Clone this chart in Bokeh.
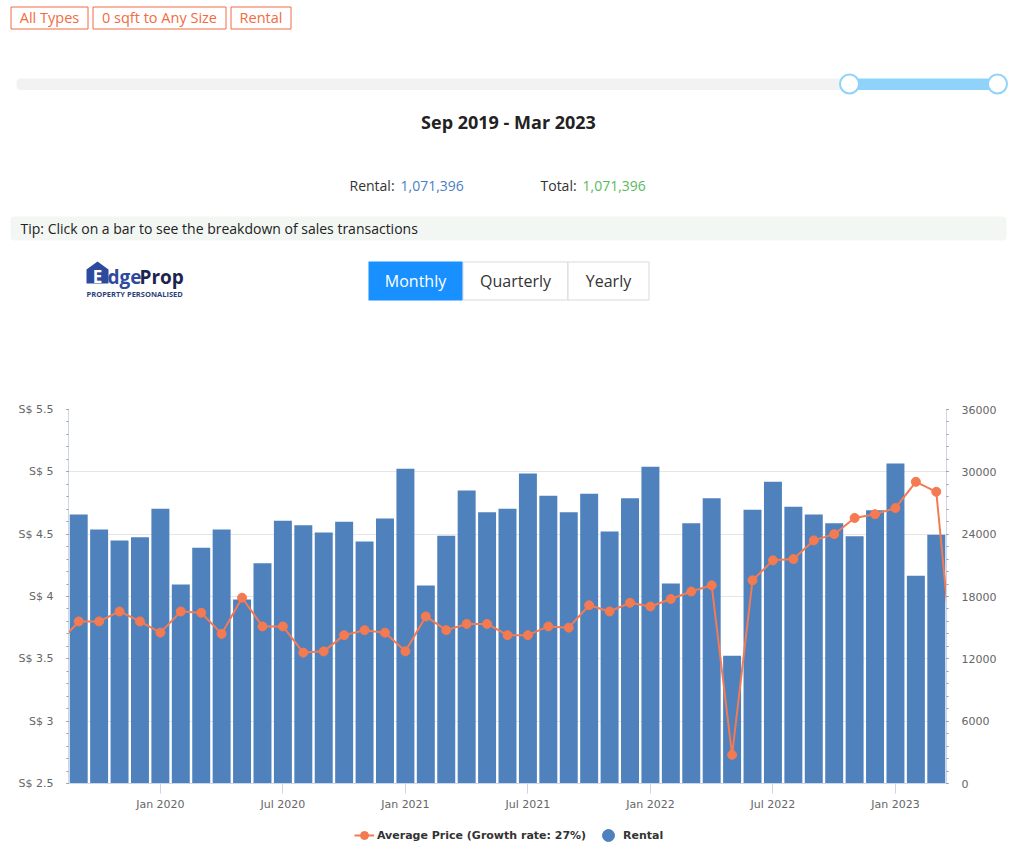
from bokeh.plotting import figure
from bokeh.models import (Range1d, LinearAxis, FixedTicker, CustomJSTickFormatter,
                          Legend, LegendItem, ColumnDataSource, NumeralTickFormatter)
from bokeh.core.properties import value
from bokeh.embed import file_html
from bokeh.resources import INLINE

# ---------------- data ----------------
months = ["Sep 2019", "Oct 2019", "Nov 2019", "Dec 2019",
          "Jan 2020", "Feb 2020", "Mar 2020", "Apr 2020", "May 2020", "Jun 2020",
          "Jul 2020", "Aug 2020", "Sep 2020", "Oct 2020", "Nov 2020", "Dec 2020",
          "Jan 2021", "Feb 2021", "Mar 2021", "Apr 2021", "May 2021", "Jun 2021",
          "Jul 2021", "Aug 2021", "Sep 2021", "Oct 2021", "Nov 2021", "Dec 2021",
          "Jan 2022", "Feb 2022", "Mar 2022", "Apr 2022", "May 2022", "Jun 2022",
          "Jul 2022", "Aug 2022", "Sep 2022", "Oct 2022", "Nov 2022", "Dec 2022",
          "Jan 2023", "Feb 2023", "Mar 2023"]

rental = [25900, 24450, 23400, 23700, 26450, 19150, 22700, 24450, 17700, 21200,
          25300, 24850, 24150, 25200, 23300, 25500, 30300, 19050, 23850, 28200,
          26100, 26450, 29850, 27700, 26100, 27900, 24250, 27450, 30500, 19250,
          25050, 27450, 12300, 26350, 29050, 26650, 25900, 25050, 23800, 26300,
          30800, 20000, 23950]

# average price series (one month on each side lies outside the selected window)
price_months = ["Aug 2019"] + months + ["Apr 2023"]
avg_price = [3.62, 3.80, 3.80, 3.88, 3.80, 3.71, 3.88, 3.87, 3.70, 3.99, 3.76,
             3.76, 3.55, 3.56, 3.69, 3.73, 3.71, 3.56, 3.84, 3.73, 3.78, 3.78,
             3.69, 3.69, 3.76, 3.75, 3.93, 3.88, 3.95, 3.92, 3.98, 4.04, 4.09,
             2.73, 4.13, 4.29, 4.30, 4.45, 4.50, 4.63, 4.66, 4.71, 4.92, 4.84,
             3.14]

tick_labels = ["Jan 2020", "Jul 2020", "Jan 2021", "Jul 2021", "Jan 2022", "Jul 2022", "Jan 2023"]
price_ticks = [2.5, 3.0, 3.5, 4.0, 4.5, 5.0, 5.5]
rental_ticks = [0, 6000, 12000, 18000, 24000, 30000, 36000]

tags = ["All Types", "0 sqft to Any Size", "Rental"]
period_text = "Sep 2019 - Mar 2023"
rental_total = "1,071,396"
grand_total = "1,071,396"
tip_text = "Tip: Click on a bar to see the breakdown of sales transactions"
buttons = ["Monthly", "Quarterly", "Yearly"]
line_label = "Average Price (Growth rate: 27%)"
bar_label = "Rental"

BAR = "#4f81bd"
LINE = "#f47a52"
ORANGE = "#f26b43"
AXIS = "#ccd6eb"
LABEL = "#666666"
FONT = "DejaVu Sans"
UI = value("Open Sans")
W = 1017

# ---------------- header (page-pixel coordinates) ----------------
hdr = figure(width=W, height=395, x_range=Range1d(0, W), y_range=Range1d(395, 0),
             output_backend="svg", toolbar_location=None, min_border=0,
             x_axis_type=None, y_axis_type=None)
hdr.grid.visible = False
hdr.outline_line_color = None

tag_left = [10.5, 92.5, 230.5]
tag_right = [87.5, 225.5, 290.5]
hdr.quad(left=tag_left, right=tag_right, top=[6.5] * 3, bottom=[28.5] * 3,
         fill_color="white", line_color=ORANGE, line_width=1)
hdr.text(x=[(a + b) / 2 for a, b in zip(tag_left, tag_right)], y=[17] * 3, text=tags,
         text_align="center", text_baseline="middle", text_font=UI,
         text_font_size="14.5px", text_color=ORANGE)

# range slider
hdr.quad(left=[16], right=[848], top=[78], bottom=[89.5], fill_color="#f2f2f2",
         line_color=None, border_radius=4)
hdr.quad(left=[848], right=[997], top=[78], bottom=[89.5], fill_color="#8fd3fb",
         line_color=None)
hdr.scatter(x=[849, 997], y=[83.5, 83.5], size=19, marker="circle", fill_color="white",
            line_color="#8fd3fb", line_width=2)

hdr.text(x=[508], y=[121], text=[period_text], text_align="center", text_baseline="middle",
         text_font=UI, text_font_size="18px", text_font_style="bold", text_color="#222222")

hdr.text(x=[349, 540], y=[185, 185], text=["Rental:", "Total:"], text_align="left",
         text_baseline="middle", text_font=UI, text_font_size="14px", text_color="#333333")
hdr.text(x=[400], y=[185], text=[rental_total], text_align="left", text_baseline="middle",
         text_font=UI, text_font_size="14px", text_color="#4a7fc1")
hdr.text(x=[582], y=[185], text=[grand_total], text_align="left", text_baseline="middle",
         text_font=UI, text_font_size="14px", text_color="#5cb85c")

# tip bar
hdr.quad(left=[10], right=[1006], top=[216], bottom=[240], fill_color="#f3f7f4",
         line_color=None, border_radius=4)
hdr.text(x=[20], y=[228], text=[tip_text], text_align="left", text_baseline="middle",
         text_font=UI, text_font_size="14px", text_color="#222222")

# EdgeProp logo
hdr.patch(x=[86, 86, 97, 108, 108], y=[283, 269, 261, 269, 283], fill_color="#2d4a9e",
          line_color=None)
hdr.text(x=[97], y=[276], text=["E"], text_align="center", text_baseline="middle",
         text_font=UI, text_font_size="17px", text_font_style="bold", text_color="white")
hdr.text(x=[107], y=[276], text=["dge"], text_align="left", text_baseline="middle",
         text_font=UI, text_font_size="19px", text_font_style="bold", text_color="#2d4a9e")
hdr.text(x=[139], y=[276], text=["Prop"], text_align="left", text_baseline="middle",
         text_font=UI, text_font_size="19px", text_font_style="bold", text_color="#1b2450")
hdr.text(x=[86], y=[293], text=["PROPERTY PERSONALISED"], text_align="left",
         text_baseline="middle", text_font=UI, text_font_size="7.5px",
         text_font_style="bold", text_color="#2d3f7a")

# period buttons
btn_left = [368, 462.5, 567.5]
btn_right = [462, 567.5, 648.5]
hdr.quad(left=btn_left[1:], right=btn_right[1:], top=[261.5, 261.5], bottom=[299.5, 299.5],
         fill_color="white", line_color="#d9d9d9", line_width=1)
hdr.quad(left=btn_left[:1], right=btn_right[:1], top=[261], bottom=[300],
         fill_color="#1890ff", line_color=None)
hdr.text(x=[(a + b) / 2 for a, b in zip(btn_left, btn_right)], y=[280.5] * 3, text=buttons,
         text_align="center", text_baseline="middle", text_font=UI,
         text_font_size="16px", text_color=["white", "#333333", "#333333"])

# ---------------- chart ----------------
p = figure(width=W, height=424, x_range=Range1d(-0.5, len(months) - 0.5),
           y_range=Range1d(price_ticks[0], price_ticks[-1]), output_backend="svg",
           toolbar_location=None, min_border_left=68, min_border_right=71,
           min_border_top=14, min_border_bottom=36)
p.outline_line_color = None
p.extra_y_ranges = {"vol": Range1d(rental_ticks[0], rental_ticks[-1])}

bar_src = ColumnDataSource(dict(x=list(range(len(months))), month=months, rental=rental))
price_x = [price_months.index(m) - 1 for m in price_months]
line_src = ColumnDataSource(dict(x=price_x, month=price_months, price=avg_price))

p.vbar(x="x", top="rental", width=0.88, source=bar_src, y_range_name="vol",
       fill_color=BAR, line_color=None)
p.line(x="x", y="price", source=line_src, line_color=LINE, line_width=2)
p.scatter(x="x", y="price", source=line_src, marker="circle", size=9,
          fill_color=LINE, line_color=LINE)

# grid
p.xgrid.visible = False
p.ygrid.ticker = FixedTicker(ticks=price_ticks)
p.ygrid.grid_line_color = "#e6e6e6"

minor_price = [2.5 + 0.1 * i for i in range(31)]
minor_rental = [1200 * i for i in range(31)]

# left axis
ya = p.yaxis[0]
ya.ticker = FixedTicker(ticks=price_ticks, minor_ticks=minor_price)
ya.formatter = CustomJSTickFormatter(code="return 'S$ ' + tick")
ya.axis_line_color = AXIS
ya.major_tick_out = 2
ya.major_tick_in = 0
ya.minor_tick_out = 2
ya.minor_tick_in = 0
ya.major_tick_line_color = "#999999"
ya.minor_tick_line_color = "#999999"
ya.major_label_standoff = 13
ya.major_label_text_font = FONT
ya.major_label_text_font_size = "11px"
ya.major_label_text_color = LABEL

# right axis
ra = LinearAxis(y_range_name="vol", ticker=FixedTicker(ticks=rental_ticks, minor_ticks=minor_rental),
                formatter=NumeralTickFormatter(format="0"))
ra.axis_line_color = AXIS
ra.major_tick_out = 2
ra.major_tick_in = 0
ra.minor_tick_out = 2
ra.minor_tick_in = 0
ra.major_tick_line_color = "#999999"
ra.minor_tick_line_color = "#999999"
ra.major_label_standoff = 13
ra.major_label_text_font = FONT
ra.major_label_text_font_size = "11px"
ra.major_label_text_color = LABEL
p.add_layout(ra, "right")

# bottom axis
xa = p.xaxis[0]
tick_pos = [months.index(t) for t in tick_labels]
xa.ticker = FixedTicker(ticks=tick_pos, minor_ticks=[])
xa.formatter = CustomJSTickFormatter(args=dict(labels=months), code="return labels[Math.round(tick)]")
xa.axis_line_color = AXIS
xa.major_tick_line_color = AXIS
xa.major_tick_out = 10
xa.major_tick_in = 0
xa.minor_tick_out = 0
xa.minor_tick_in = 0
xa.major_label_standoff = 4
xa.major_label_text_font = FONT
xa.major_label_text_font_size = "11px"
xa.major_label_text_color = LABEL

# ---------------- legend strip ----------------
lg = figure(width=W, height=40, x_range=Range1d(0, W), y_range=Range1d(0, 40),
            output_backend="svg", toolbar_location=None, min_border=0,
            x_axis_type=None, y_axis_type=None)
lg.grid.visible = False
lg.outline_line_color = None
# swatch renderers sit outside the visible strip; only their legend glyphs show
off_x = [-50, -40]
off_y = [-50, -50]
sw_line = lg.line(x=off_x, y=off_y, line_color=LINE, line_width=2)
sw_mark = lg.scatter(x=off_x, y=off_y, marker="circle", fill_color=LINE, line_color=LINE)
sw_bar = lg.scatter(x=off_x, y=off_y, marker="circle", fill_color=BAR, line_color=BAR)

legend_style = dict(orientation="horizontal", label_text_font=FONT, label_text_font_style="bold",
                    label_text_font_size="11px", label_text_color="#333333",
                    border_line_color=None, background_fill_alpha=0, padding=0, margin=0,
                    label_height=14)
leg1 = Legend(items=[LegendItem(label=line_label, renderers=[sw_line, sw_mark])],
              location=(354, 14), glyph_width=20, glyph_height=20, label_standoff=3,
              **legend_style)
leg2 = Legend(items=[LegendItem(label=bar_label, renderers=[sw_bar])],
              location=(593, 9), glyph_width=30, glyph_height=30, label_standoff=0,
              **legend_style)
lg.add_layout(leg1)
lg.add_layout(leg2)

open("out.html", "w").write(file_html([hdr, p, lg], INLINE))
